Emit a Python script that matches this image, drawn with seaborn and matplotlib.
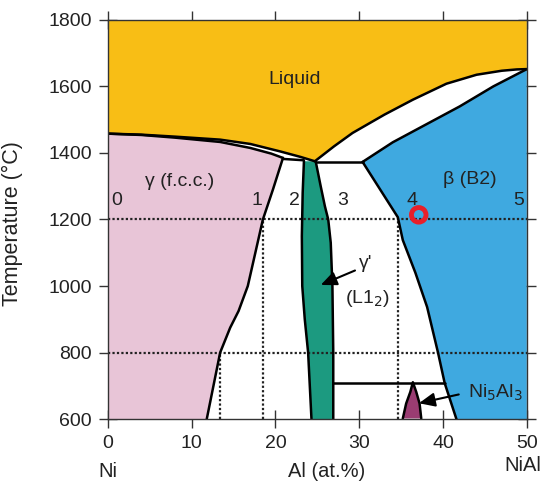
import matplotlib
matplotlib.use("Agg")
import matplotlib.pyplot as plt
import seaborn as sns

# Ni-Al phase diagram, boundaries (x = Al at.%, y = T in C)
liq_left_x = [0, 4, 8, 13.4, 17, 20.5, 23, 24.7]
liq_left_T = [1458, 1455, 1449, 1440, 1427, 1405, 1388, 1375]
liq_right_x = [24.7, 27, 29.2, 33, 36.4, 40.4, 44, 47, 48.8, 50]
liq_right_T = [1375, 1420, 1460, 1515, 1560, 1608, 1635, 1647, 1651, 1652]

gam_sol_x = [0, 4, 8, 13.4, 17, 19.5, 20.9]
gam_sol_T = [1458, 1454, 1446, 1433, 1415, 1398, 1385]
gam_solvus_x = [20.9, 19.7, 18.5, 17.6, 16.7, 15.6, 14.6, 13.4, 11.8]
gam_solvus_T = [1385, 1290, 1200, 1100, 1000, 925, 875, 800, 600]

gp_left_x = [23.4, 23.25, 23.15, 23.2, 23.5, 23.9, 24.3]
gp_left_T = [1375, 1280, 1150, 1000, 900, 800, 600]
gp_right_x = [24.8, 25.4, 25.9, 26.3, 26.6, 26.8, 26.9, 26.9]
gp_right_T = [1375, 1300, 1240, 1200, 1130, 1000, 800, 600]

beta_sol_x = [30.4, 34, 38, 42, 46, 50]
beta_sol_T = [1373, 1432, 1486, 1540, 1600, 1652]
beta_left_x = [30.4, 32.5, 34.6, 35.2, 36.7, 38.1, 39.4, 40.2, 41.6]
beta_left_T = [1373, 1290, 1207, 1138, 1040, 937, 800, 708, 600]

ni5al3_x = [35.2, 35.6, 36.1, 36.4, 36.8, 37.2, 37.4]
ni5al3_T = [602, 647, 682, 711, 682, 647, 602]

ni5al3_line_x = [26.9, 40.2]
ni5al3_line_T = [708, 708]
eut_left_x = [20.9, 23.4]
eut_left_T = [1382, 1378]
eut_right_x = [24.8, 30.4]
eut_right_T = [1373, 1373]

grid_T = [1200, 800]
vert_x = [13.4, 18.5, 34.6]
vert_top = [800, 1200, 1200]

point_labels = ["0", "1", "2", "3", "4", "5"]
point_x = [0.4, 17.2, 21.6, 27.4, 35.6, 48.4]
point_T = [1232, 1232, 1232, 1232, 1232, 1232]

xticks = [0, 10, 20, 30, 40, 50]
yticks = [600, 800, 1000, 1200, 1400, 1600, 1800]

sns.set_theme(style="ticks")
plt.rcParams["font.family"] = ["Liberation Sans", "DejaVu Sans"]

fig = plt.figure(figsize=(5.42, 4.84), dpi=100)
ax = fig.add_axes([0.199, 0.134, 0.773, 0.825])

c_liq = "#F8BE15"
c_gam = "#E8C5D7"
c_gp = "#1C9A80"
c_beta = "#3FA9E0"
c_ni5 = "#9A3C72"
txt = "#222222"

# filled phase fields
ax.fill([0, 50] + [50] + liq_right_x[::-1] + liq_left_x[::-1],
        [1800, 1800] + [1652] + liq_right_T[::-1] + liq_left_T[::-1],
        color=c_liq, lw=0)
ax.fill([0] + gam_solvus_x[::-1] + gam_sol_x[::-1],
        [600] + gam_solvus_T[::-1] + gam_sol_T[::-1], color=c_gam, lw=0)
ax.fill(gp_left_x + gp_right_x[::-1], gp_left_T + gp_right_T[::-1],
        color=c_gp, lw=0)
ax.fill(beta_sol_x + [50, 50] + beta_left_x[::-1],
        beta_sol_T + [1652, 600] + beta_left_T[::-1], color=c_beta, lw=0)
ax.fill(ni5al3_x, ni5al3_T, color=c_ni5, lw=0)

# dotted guide lines
for t in grid_T:
    ax.plot([0, 50], [t, t], ls=(0, (1, 1)), color="#222222", lw=1.6)
for x, top in zip(vert_x, vert_top):
    ax.plot([x, x], [600, top], ls=(0, (1, 1)), color="#222222", lw=1.6)

# phase boundaries
curves = [(liq_left_x, liq_left_T), (liq_right_x, liq_right_T),
          (gam_sol_x, gam_sol_T), (gam_solvus_x, gam_solvus_T),
          (gp_left_x, gp_left_T), (gp_right_x, gp_right_T),
          (beta_sol_x, beta_sol_T), (beta_left_x, beta_left_T),
          (ni5al3_x, ni5al3_T), (ni5al3_line_x, ni5al3_line_T),
          (eut_left_x, eut_left_T), (eut_right_x, eut_right_T)]
for cx, cy in curves:
    sns.lineplot(x=cx, y=cy, sort=False, estimator=None, color="black",
                 lw=1.8, ax=ax)

# labels
ax.text(22.3, 1620, "Liquid", fontsize=14, ha="center", va="center", color=txt)
ax.text(8.6, 1313, "γ (f.c.c.)", fontsize=14, ha="center", va="center", color=txt)
ax.text(43.2, 1319, "β (B2)", fontsize=14, ha="center", va="center", color=txt)
ax.text(30.8, 1068, "γ'", fontsize=14, ha="center", va="center", color=txt)
ax.text(31.0, 962, "(L1$_2$)", fontsize=14, ha="center", va="center", color=txt)
ax.text(46.2, 678, "Ni$_5$Al$_3$", fontsize=14, ha="center", va="center", color=txt)
for lab, x, t in zip(point_labels, point_x, point_T):
    ax.text(x, t, lab, fontsize=14, ha="left", va="bottom", color=txt)

ax.annotate("", xy=(25.1, 1000), xytext=(29.8, 1050),
            arrowprops=dict(arrowstyle="-|>,head_length=0.8,head_width=0.35",
                            color="black", lw=1.5))
ax.annotate("", xy=(36.8, 646), xytext=(42.2, 676),
            arrowprops=dict(arrowstyle="-|>,head_length=0.8,head_width=0.35",
                            color="black", lw=1.5))

ax.scatter([37.1], [1214], s=110, facecolors="none", edgecolors="#E8202A",
           linewidths=3.5, zorder=5)

ax.set_xlim(0, 50)
ax.set_ylim(600, 1800)
ax.set_xticks(xticks)
ax.set_yticks(yticks)
ax.tick_params(direction="inout", length=13, width=1, labelsize=14, pad=5,
               top=True, right=True, colors="#333333", labelcolor=txt)
for s in ax.spines.values():
    s.set_color("#333333")
    s.set_linewidth(1)

ax.set_ylabel("Temperature (°C)", fontsize=15.5, color=txt)
ax.yaxis.set_label_coords(-0.202, 0.49)
tr = ax.get_xaxis_transform()
ax.text(0, -0.132, "Ni", transform=tr, fontsize=14.5, ha="center", va="center", color=txt)
ax.text(26.1, -0.132, "Al (at.%)", transform=tr, fontsize=14.5, ha="center", va="center", color=txt)
ax.text(51.7, -0.115, "NiAl", transform=tr, fontsize=14.5, ha="right", va="center", color=txt)

fig.savefig("out.png", dpi=100)
